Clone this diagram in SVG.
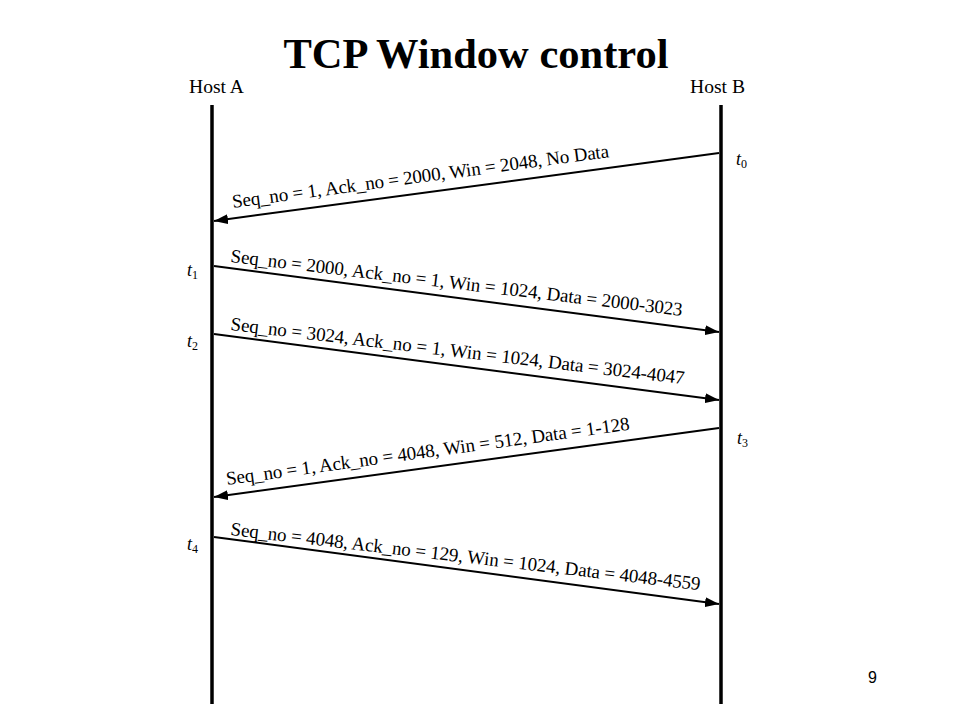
<svg xmlns="http://www.w3.org/2000/svg" width="960" height="720" viewBox="0 0 960 720">
<style>
.title{font-family:"Liberation Serif","Times New Roman",serif;font-size:42.5px;font-weight:bold;fill:#000}
.host{font-family:"Liberation Serif","Times New Roman",serif;font-size:19px;fill:#000}
.lbl{font-family:"Liberation Serif","Times New Roman",serif;font-size:19px;fill:#000}
.tm{font-family:"Liberation Serif","Times New Roman",serif;font-size:18px;font-style:italic;fill:#000}
.sub{font-size:12px;font-style:normal}
.life{stroke:#000;stroke-width:3.5;fill:none}
.msg{stroke:#000;stroke-width:2;fill:none;marker-end:url(#ah)}
.pg{font-family:"Liberation Sans",Arial,sans-serif;font-size:16px;fill:#000}
</style>
<defs>
<marker id="ah" viewBox="0 0 14 10" refX="14" refY="5" markerWidth="14" markerHeight="10" markerUnits="userSpaceOnUse" orient="auto">
<path d="M0,0 L14,5 L0,10 z" fill="#000"/>
</marker>
</defs>
<rect width="960" height="720" fill="#fff"/>
<text class="title" x="476" y="68" text-anchor="middle">TCP Window control</text>
<g id="hostA">
<text class="host" x="189" y="93" textLength="55" lengthAdjust="spacingAndGlyphs">Host A</text>
<line class="life" x1="212" y1="105" x2="212" y2="704"/>
</g>
<g id="hostB">
<text class="host" x="690" y="93" textLength="55" lengthAdjust="spacingAndGlyphs">Host B</text>
<line class="life" x1="721" y1="105" x2="721" y2="704"/>
</g>
<g id="connectors">
<line class="msg" x1="719" y1="153" x2="214" y2="221"/>
<line class="msg" x1="214" y1="266" x2="719" y2="332"/>
<line class="msg" x1="214" y1="334" x2="719" y2="400"/>
<line class="msg" x1="719" y1="428" x2="214" y2="497"/>
<line class="msg" x1="214" y1="537" x2="719" y2="604"/>
</g>
<g id="labels">
<text class="lbl" transform="translate(233,208) rotate(-7.7)" textLength="380" lengthAdjust="spacing">Seq_no = 1, Ack_no = 2000, Win = 2048, No Data</text>
<text class="lbl" transform="translate(230,262) rotate(6.8)" textLength="455" lengthAdjust="spacing">Seq_no = 2000, Ack_no = 1, Win = 1024, Data = 2000-3023</text>
<text class="lbl" transform="translate(230,330) rotate(6.8)" textLength="457" lengthAdjust="spacing">Seq_no = 3024, Ack_no = 1, Win = 1024, Data = 3024-4047</text>
<text class="lbl" transform="translate(227,485) rotate(-7.8)" textLength="407" lengthAdjust="spacing">Seq_no = 1, Ack_no = 4048, Win = 512, Data = 1-128</text>
<text class="lbl" transform="translate(230,535) rotate(6.7)" textLength="473" lengthAdjust="spacing">Seq_no = 4048, Ack_no = 129, Win = 1024, Data = 4048-4559</text>
</g>
<g id="times">
<text class="tm" x="736" y="165">t<tspan class="sub" dy="3">0</tspan></text>
<text class="tm" x="187" y="276">t<tspan class="sub" dy="3">1</tspan></text>
<text class="tm" x="187" y="347">t<tspan class="sub" dy="3">2</tspan></text>
<text class="tm" x="737" y="444">t<tspan class="sub" dy="3">3</tspan></text>
<text class="tm" x="187" y="550">t<tspan class="sub" dy="3">4</tspan></text>
</g>
<text class="pg" x="868" y="683">9</text>
</svg>
